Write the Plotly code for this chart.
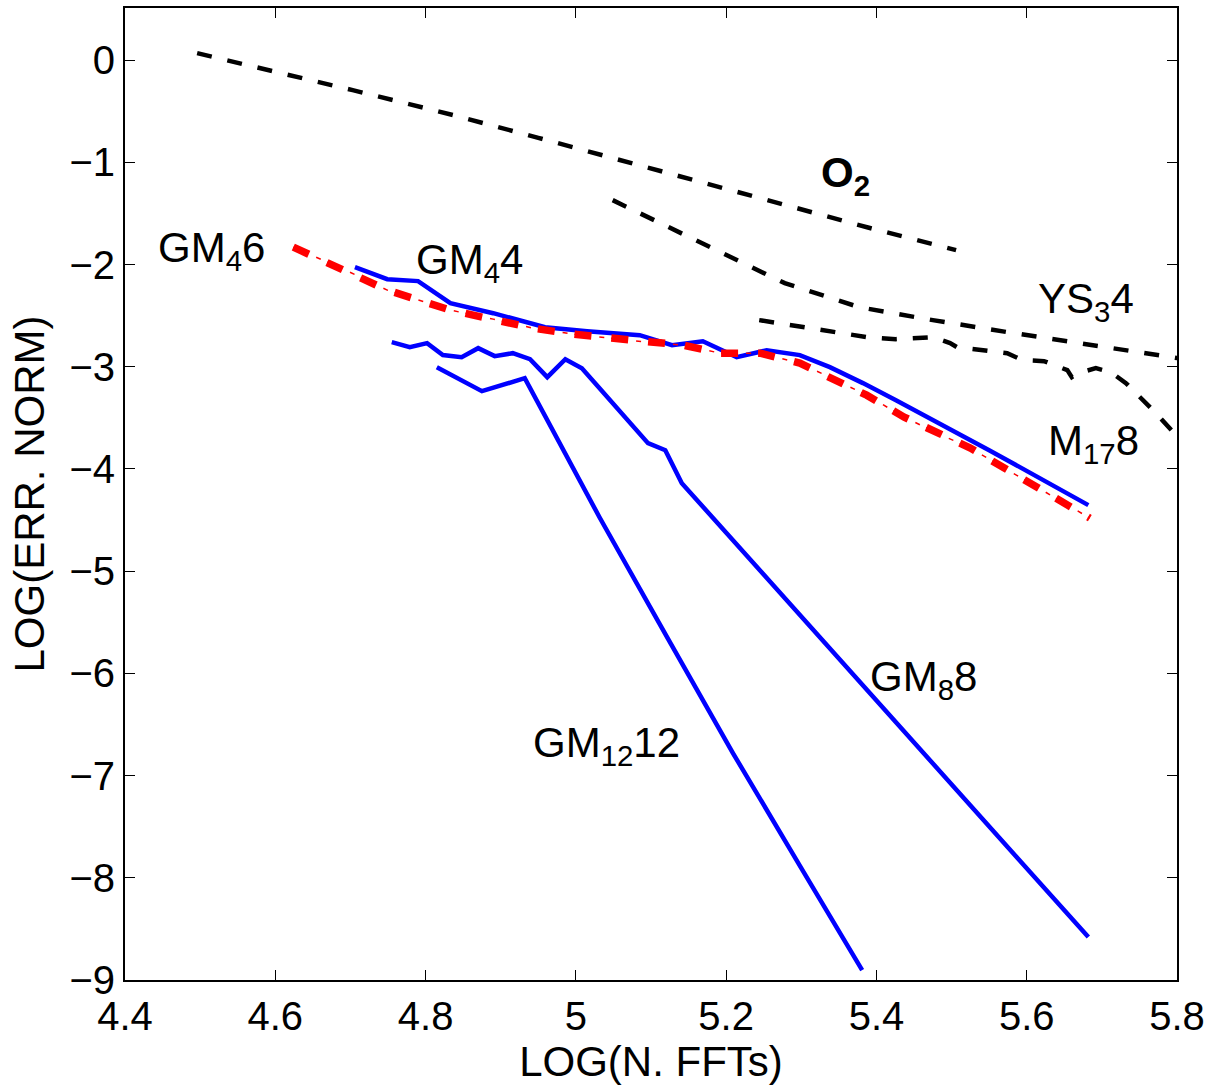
import plotly.graph_objects as go

# ---- data ----
o2_x = [4.496, 4.60, 4.703, 4.80, 4.837, 4.95, 5.059, 5.17, 5.278, 5.39, 5.506]
o2_y = [0.068, -0.11, -0.294, -0.47, -0.538, -0.76, -0.978, -1.20, -1.419, -1.64, -1.859]

ys_x = [5.049, 5.180, 5.278, 5.377, 5.475, 5.574, 5.672, 5.801]
ys_y = [-1.370, -1.830, -2.182, -2.417, -2.544, -2.661, -2.769, -2.916]

m17_x = [5.244, 5.387, 5.426, 5.475, 5.498, 5.507, 5.574, 5.594, 5.623, 5.654,
         5.660, 5.668, 5.692, 5.712, 5.732, 5.772, 5.801]
m17_y = [-2.544, -2.710, -2.730, -2.710, -2.769, -2.808, -2.867, -2.935, -2.945, -3.033,
         -3.102, -3.063, -3.014, -3.053, -3.160, -3.454, -3.689]

gm46_x = [4.624, 4.699, 4.749, 4.833, 4.890, 4.943, 4.996, 5.045, 5.095, 5.143,
          5.192, 5.245, 5.298, 5.338, 5.387, 5.437, 5.481, 5.525, 5.684]
gm46_y = [-1.830, -2.074, -2.250, -2.446, -2.534, -2.622, -2.681, -2.720, -2.759, -2.789,
          -2.867, -2.867, -2.965, -3.102, -3.278, -3.493, -3.650, -3.796, -4.481]

gm44_x = [4.706, 4.749, 4.790, 4.833, 4.890, 4.959, 5.015, 5.085, 5.128, 5.169,
          5.214, 5.254, 5.298, 5.338, 5.382, 5.426, 5.550, 5.682]
gm44_y = [-2.025, -2.143, -2.162, -2.378, -2.476, -2.613, -2.652, -2.691, -2.789, -2.750,
          -2.906, -2.838, -2.886, -3.004, -3.160, -3.327, -3.816, -4.354]

gm88_x = [4.755, 4.779, 4.802, 4.823, 4.848, 4.870, 4.892, 4.916, 4.939, 4.962,
          4.986, 5.008, 5.028, 5.096, 5.119, 5.141, 5.682]
gm88_y = [-2.759, -2.808, -2.769, -2.886, -2.906, -2.818, -2.896, -2.867, -2.926, -3.102,
          -2.926, -3.014, -3.180, -3.748, -3.816, -4.139, -8.580]

gm1212_x = [4.815, 4.875, 4.932, 5.032, 5.121, 5.209, 5.298, 5.381]
gm1212_y = [-3.004, -3.239, -3.112, -4.480, -5.640, -6.780, -7.880, -8.904]

x_ticks = [4.4, 4.6, 4.8, 5.0, 5.2, 5.4, 5.6, 5.8]
x_tick_text = ["4.4", "4.6", "4.8", "5", "5.2", "5.4", "5.6", "5.8"]
y_ticks = [0, -1, -2, -3, -4, -5, -6, -7, -8, -9]

labels = ["GM<sub>4</sub>6", "GM<sub>4</sub>4", "<b>O<sub>2</sub></b>", "YS<sub>3</sub>4",
          "M<sub>17</sub>8", "GM<sub>8</sub>8", "GM<sub>12</sub>12"]
label_x = [4.441, 4.784, 5.324, 5.612, 5.625, 5.389, 4.940]
label_y = [-1.86, -1.98, -1.13, -2.36, -3.75, -6.06, -6.71]

FONT = "Liberation Sans, Arial, Helvetica, sans-serif"
BLUE = "#0000FF"
RED = "#FF0000"

fig = go.Figure()

black_dash = "15px,16px"
for xs, ys in [(o2_x, o2_y), (ys_x, ys_y), (m17_x, m17_y)]:
    fig.add_trace(go.Scatter(x=xs, y=ys, mode="lines",
                             line=dict(color="black", width=4.5, dash=black_dash),
                             showlegend=False, hoverinfo="skip"))

for xs, ys in [(gm44_x, gm44_y), (gm88_x, gm88_y), (gm1212_x, gm1212_y)]:
    fig.add_trace(go.Scatter(x=xs, y=ys, mode="lines",
                             line=dict(color=BLUE, width=4.5),
                             showlegend=False, hoverinfo="skip"))

# red dash-dot: thick dashes plus thin dots in the gaps
fig.add_trace(go.Scatter(x=gm46_x, y=gm46_y, mode="lines",
                         line=dict(color=RED, width=7.5, dash="17px,20px"),
                         showlegend=False, hoverinfo="skip"))
fig.add_trace(go.Scatter(x=gm46_x, y=gm46_y, mode="lines",
                         line=dict(color=RED, width=1.5, dash="2px,23px,5px,7px"),
                         showlegend=False, hoverinfo="skip"))

for t, lx, ly in zip(labels, label_x, label_y):
    fig.add_annotation(x=lx, y=ly, text=t, showarrow=False,
                       xanchor="left", yanchor="middle",
                       font=dict(family=FONT, size=42, color="black"))

axis_common = dict(showline=True, linecolor="black", linewidth=2, mirror="ticks",
                   ticks="inside", ticklen=10, tickwidth=1, tickcolor="black",
                   showgrid=False, zeroline=False,
                   tickfont=dict(family=FONT, size=40, color="black"))

fig.update_xaxes(range=[4.4, 5.8], tickvals=x_ticks, ticktext=x_tick_text,
                 title=dict(text="LOG(N. FFTs)", font=dict(family=FONT, size=42, color="black"),
                            standoff=0),
                 **axis_common)
fig.update_yaxes(range=[-9, 0.51], tickvals=y_ticks,
                 title=dict(text="LOG(ERR. NORM)", font=dict(family=FONT, size=42, color="black"),
                            standoff=12),
                 **axis_common)

fig.update_layout(width=1219, height=1088,
                  margin=dict(l=125, r=42, t=8, b=108, autoexpand=False),
                  plot_bgcolor="white", paper_bgcolor="white",
                  showlegend=False)

fig.write_html("out.html", config={"displayModeBar": False},
               post_script="document.body.style.margin='0';document.body.style.overflow='hidden';")
